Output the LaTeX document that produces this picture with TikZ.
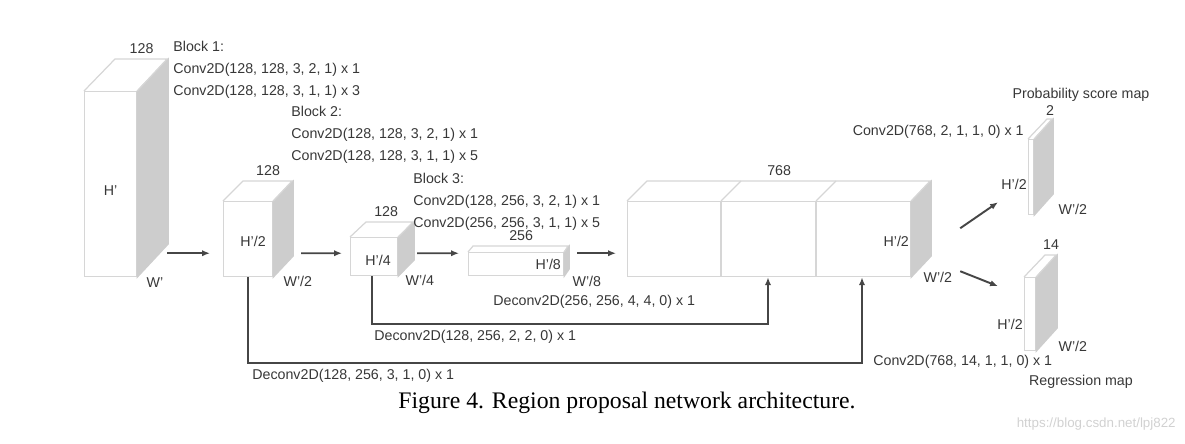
\documentclass[tikz,border=0pt]{standalone}
\usepackage{fontspec}
\setmainfont{Liberation Sans}
\newfontfamily\captionserif{Liberation Serif}
\usetikzlibrary{arrows.meta, calc, positioning}
\definecolor{EdgeColor}{RGB}{214,214,214}
\definecolor{SideColor}{RGB}{205,205,205}
\definecolor{TextColor}{RGB}{55,55,55}
\definecolor{ArrowColor}{RGB}{70,70,70}

% cube: name, x, y (front north west), width, height, depth dx, depth dy (px)
\newcommand{\drawcube}[7]{%
  \node[face, minimum width=#4*0.02cm, minimum height=#5*0.02cm] (#1) at (#2,#3) {};
  \fill[side] (#1.north east) -- ++(#6,-#7) -- ++(0,#5) -- (#1.south east) -- cycle;
  \draw[edge] (#1.north west) -- ++(#6,-#7) -- ++(#4,0) -- (#1.north east);
  \coordinate (#1-top) at ($(#1.north)+(#6,-#7)$);
}

\begin{document}
\begin{tikzpicture}[x=0.02cm, y=-0.02cm, >={Latex[length=4.5pt,width=3.6pt]},
    face/.style={draw=EdgeColor, fill=white, line width=0.7pt, inner sep=0pt, anchor=north west},
    side/.style={fill=SideColor, draw=SideColor, line width=0.7pt},
    edge/.style={draw=EdgeColor, line width=0.7pt},
    lbl/.style={font=\fontsize{8.1}{12.5}\selectfont, text=TextColor, inner sep=0pt},
    arr/.style={->, draw=ArrowColor, line width=1.1pt}]
  \useasboundingbox (0,0) rectangle (1185,443);

  % Feature maps
  \drawcube{b1}{84}{91}{52}{185}{31}{32}
  \drawcube{b2}{223}{201}{49}{75}{20}{20}
  \drawcube{b3}{350}{237}{47}{38}{16}{15}
  \drawcube{b4}{468}{252}{95}{23}{5}{6}
  \drawcube{b5}{627}{201}{283}{75}{20}{20}
  \drawcube{prob}{1028}{139}{5}{75}{19}{20}
  \drawcube{reg}{1024}{277}{11}{73}{21}{22}
  % Concatenation splits
  \draw[edge] ($(b5.north west)+(94,0)$) -- ++(0,75);
  \draw[edge] ($(b5.north west)+(94,0)$) -- ++(20,-20);
  \draw[edge] ($(b5.north west)+(189,0)$) -- ++(0,75);
  \draw[edge] ($(b5.north west)+(189,0)$) -- ++(20,-20);

  % Channel sizes
  \node[lbl, above=3pt of b1-top] (c1) {128};
  \node[lbl, above=3pt of b2-top] (c2) {128};
  \node[lbl, above=3pt of b3-top, xshift=-0.08cm] (c3) {128};
  \node[lbl, above=3pt of b4-top] (c4) {256};
  \node[lbl, above=3pt of b5-top, xshift=-0.2cm] (c5) {768};
  \node[lbl, above=2pt of prob-top] (c6) {2};
  \node[lbl, above=3pt of reg-top] (c7) {14};

  % Heights
  \node[lbl] (h1) at ($(b1.center)+(0,6)$) {H’};
  \node[lbl] (h2) at ($(b2.center)+(5,2)$) {H’/2};
  \node[lbl] (h3) at ($(b3.center)+(4,4)$) {H’/4};
  \node[lbl, anchor=east] (h4) at ($(b4.east)+(-3,0)$) {H’/8};
  \node[lbl, anchor=east] (h5) at ($(b5.east)+(-2,2)$) {H’/2};
  \node[lbl, anchor=east] (h6) at ($(prob.west)+(-1,7)$) {H’/2};
  \node[lbl, anchor=east] (h7) at ($(reg.west)+(-1,10)$) {H’/2};

  % Widths
  \node[lbl, anchor=west] (w1) at ($(b1.south east)+(9,5)$) {W’};
  \node[lbl, anchor=west] (w2) at ($(b2.south east)+(10,4)$) {W’/2};
  \node[lbl, anchor=west] (w3) at ($(b3.south east)+(7,4)$) {W’/4};
  \node[lbl, anchor=west] (w4) at ($(b4.south east)+(8,5)$) {W’/8};
  \node[lbl, anchor=west] (w5) at ($(b5.south east)+(12,0)$) {W’/2};
  \node[lbl, anchor=west] (w6) at ($(prob.south east)+(24,-6)$) {W’/2};
  \node[lbl, anchor=west] (w7) at ($(reg.south east)+(22,-5)$) {W’/2};

  % Block descriptions
  \node[lbl, align=left, anchor=north west] (blk1) at (173,41)
    {Block 1:\\Conv2D(128, 128, 3, 2, 1) x 1\\Conv2D(128, 128, 3, 1, 1) x 3};
  \node[lbl, align=left, anchor=north west] (blk2) at (291,106)
    {Block 2:\\Conv2D(128, 128, 3, 2, 1) x 1\\Conv2D(128, 128, 3, 1, 1) x 5};
  \node[lbl, align=left, anchor=north west] (blk3) at (413,173)
    {Block 3:\\Conv2D(128, 256, 3, 2, 1) x 1\\Conv2D(256, 256, 3, 1, 1) x 5};

  % Forward arrows
  \draw[arr] ($(b1.south east)+(30,-24)$) -- ($(b2.south west)+(-13,-24)$);
  \draw[arr] ($(b2.south east)+(28,-24)$) -- ($(b3.south west)+(-8,-23)$);
  \draw[arr] ($(b3.south east)+(19,-23)$) -- ($(b4.south west)+(-9,-23)$);
  \draw[arr] ($(b4.south east)+(13,-23)$) -- ($(b5.south west)+(-11,-24)$);
  \draw[arr] ($(b5.south east)+(49,-49)$) -- ($(prob.south west)+(-30,-13)$);
  \draw[arr] ($(b5.south east)+(49,-6)$) -- ($(reg.south west)+(-26,-65)$);

  % Skip connections
  \draw[arr] ($(b3.south west)+(22,0)$) -- ++(0,48) -| ($(b5.south west)+(141,0)$);
  \draw[arr] ($(b2.south west)+(25,0)$) -- ++(0,86) -| ($(b5.south west)+(235,0)$);
  \node[lbl, anchor=west] (dc1) at (493,302) {Deconv2D(256, 256, 4, 4, 0) x 1};
  \node[lbl, anchor=west] (dc2) at (374,337) {Deconv2D(128, 256, 2, 2, 0) x 1};
  \node[lbl, anchor=west] (dc3) at (252,376) {Deconv2D(128, 256, 3, 1, 0) x 1};

  % Heads
  \node[lbl, anchor=east] (hd1) at (1024,132) {Conv2D(768, 2, 1, 1, 0) x 1};
  \node[lbl, anchor=west] (hd2) at (873,362) {Conv2D(768, 14, 1, 1, 0) x 1};
  \node[lbl] (out1) at (1081,95) {Probability score map};
  \node[lbl] (out2) at (1081,382) {Regression map};

  % Caption
  \node[font=\captionserif\fontsize{13.5}{15}\selectfont] (caption) at (627,403)
    {Figure 4. Region proposal network architecture.};
  \node[font=\fontsize{7.6}{9}\selectfont, text=black!18, anchor=east, inner sep=0pt] (mark) at (1176,424)
    {https://blog.csdn.net/lpj822};
\end{tikzpicture}
\end{document}
